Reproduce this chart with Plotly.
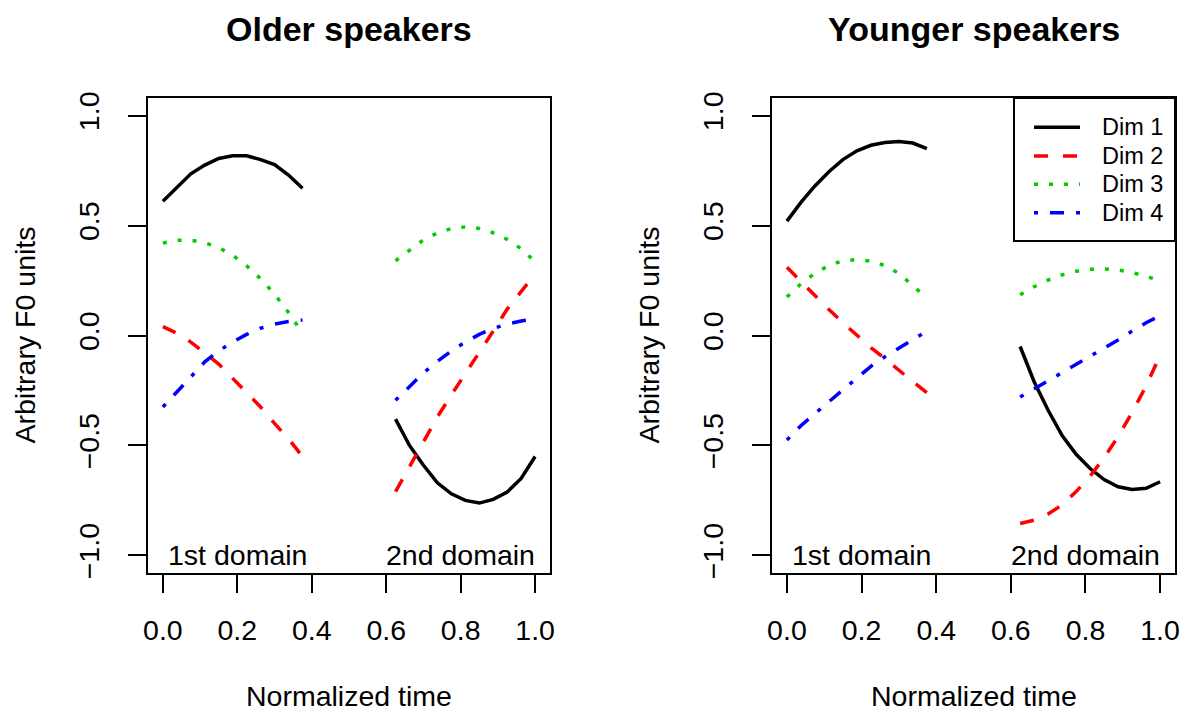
import plotly.graph_objects as go

# ---------------- data ----------------
t_dom1 = [0, 0.0375, 0.075, 0.1125, 0.15, 0.1875, 0.225, 0.2625, 0.3, 0.3375, 0.375]
t_dom2 = [0.625, 0.6625, 0.7, 0.7375, 0.775, 0.8125, 0.85, 0.8875, 0.925, 0.9625, 1.0]

dim_names = ["Dim 1", "Dim 2", "Dim 3", "Dim 4"]
panel_titles = ["Older speakers", "Younger speakers"]
domain_labels = ["1st domain", "2nd domain"]
domain_label_x = [0.2, 0.8]
domain_label_y = -1.0
x_ticks = [0.0, 0.2, 0.4, 0.6, 0.8, 1.0]
y_ticks = [-1.0, -0.5, 0.0, 0.5, 1.0]
x_title = "Normalized time"
y_title = "Arbitrary F0 units"

older_dim1_d1 = [0.61, 0.67, 0.735, 0.775, 0.805, 0.817, 0.817, 0.80, 0.777, 0.73, 0.67]
older_dim1_d2 = [-0.38, -0.50, -0.59, -0.67, -0.72, -0.75, -0.762, -0.745, -0.712, -0.65, -0.55]
older_dim2_d1 = [0.04, 0.01, -0.03, -0.08, -0.13, -0.195, -0.26, -0.325, -0.40, -0.47, -0.55]
older_dim2_d2 = [-0.71, -0.595, -0.48, -0.37, -0.27, -0.175, -0.075, 0.02, 0.12, 0.20, 0.28]
older_dim3_d1 = [0.42, 0.433, 0.433, 0.422, 0.40, 0.365, 0.317, 0.258, 0.188, 0.105, 0.01]
older_dim3_d2 = [0.34, 0.39, 0.435, 0.466, 0.486, 0.494, 0.487, 0.467, 0.437, 0.395, 0.335]
older_dim4_d1 = [-0.325, -0.255, -0.185, -0.12, -0.07, -0.03, 0.005, 0.033, 0.052, 0.064, 0.07]
older_dim4_d2 = [-0.295, -0.23, -0.17, -0.118, -0.07, -0.03, 0.005, 0.032, 0.052, 0.066, 0.075]

younger_dim1_d1 = [0.52, 0.605, 0.68, 0.745, 0.80, 0.84, 0.865, 0.878, 0.882, 0.875, 0.85]
younger_dim1_d2 = [-0.05, -0.21, -0.34, -0.455, -0.54, -0.605, -0.655, -0.688, -0.70, -0.695, -0.665]
younger_dim2_d1 = [0.31, 0.245, 0.18, 0.118, 0.058, 0.0, -0.055, -0.105, -0.16, -0.21, -0.26]
younger_dim2_d2 = [-0.855, -0.84, -0.812, -0.77, -0.71, -0.64, -0.555, -0.46, -0.35, -0.23, -0.09]
younger_dim3_d1 = [0.175, 0.235, 0.283, 0.318, 0.34, 0.345, 0.338, 0.318, 0.283, 0.228, 0.17]
younger_dim3_d2 = [0.185, 0.222, 0.252, 0.276, 0.292, 0.301, 0.303, 0.298, 0.287, 0.27, 0.25]
younger_dim4_d1 = [-0.475, -0.41, -0.355, -0.3, -0.245, -0.19, -0.14, -0.097, -0.058, -0.018, 0.02]
younger_dim4_d2 = [-0.28, -0.243, -0.208, -0.17, -0.13, -0.093, -0.057, -0.02, 0.02, 0.058, 0.09]

older = [(older_dim1_d1, older_dim1_d2), (older_dim2_d1, older_dim2_d2),
         (older_dim3_d1, older_dim3_d2), (older_dim4_d1, older_dim4_d2)]
younger = [(younger_dim1_d1, younger_dim1_d2), (younger_dim2_d1, younger_dim2_d2),
           (younger_dim3_d1, younger_dim3_d2), (younger_dim4_d1, younger_dim4_d2)]

# ---------------- style ----------------
W, H = 1186, 712
FONT = "Liberation Sans, Arial, Helvetica, sans-serif"
FS = 28.5
colors = ["#000000", "#FF0000", "#00CD00", "#0000FF"]
dashes = ["solid", "14px,15px", "4px,11px", "4px,12px,14px,12px"]
LW = 3.5

def pxx(p):
    return p / W

def pxy(p):
    return 1 - p / H

box_left = [(148, 550), (772, 1175)]
box_top, box_bottom = 98, 573

fig = go.Figure()

for pi, panel in enumerate([older, younger]):
    xa = "x" if pi == 0 else "x2"
    ya = "y" if pi == 0 else "y2"
    for di, (d1, d2) in enumerate(panel):
        fig.add_trace(go.Scatter(
            x=t_dom1 + [None] + t_dom2,
            y=d1 + [None] + d2,
            mode="lines", connectgaps=False,
            line=dict(color=colors[di], width=LW, dash=dashes[di]),
            xaxis=xa, yaxis=ya, showlegend=False, hoverinfo="skip"))

axis_common = dict(
    showgrid=False, zeroline=False, showline=True, mirror=True,
    linecolor="black", linewidth=2, ticks="outside", ticklen=18,
    tickwidth=2, tickcolor="black", automargin=False,
    tickfont=dict(family=FONT, size=FS, color="black"),
    tickformat=".1f", fixedrange=True)

layout = dict(
    width=W, height=H, margin=dict(l=0, r=0, t=0, b=0, pad=0), autosize=False,
    paper_bgcolor="white", plot_bgcolor="white",
    font=dict(family=FONT, size=FS, color="black"),
    showlegend=False)

for pi in range(2):
    sx = "" if pi == 0 else "2"
    l, r = box_left[pi]
    layout["xaxis" + sx] = dict(axis_common, domain=[pxx(l), pxx(r)],
                                range=[-0.04, 1.04], tickvals=x_ticks,
                                anchor="y" + sx, ticklabelstandoff=13)
    layout["yaxis" + sx] = dict(axis_common, domain=[pxy(box_bottom), pxy(box_top)],
                                range=[-1.08, 1.08], tickvals=y_ticks,
                                anchor="x" + sx, tickangle=-90, ticklabelstandoff=18)

fig.update_layout(**layout)

ann = []
for pi in range(2):
    sx = "" if pi == 0 else "2"
    l, r = box_left[pi]
    cx = (l + r) / 2
    ann.append(dict(text="<b>" + panel_titles[pi] + "</b>", x=pxx(cx), y=pxy(29),
                    xref="paper", yref="paper", showarrow=False,
                    font=dict(family=FONT, size=34, color="black"),
                    xanchor="center", yanchor="middle"))
    ann.append(dict(text=x_title, x=pxx(cx), y=pxy(696), xref="paper", yref="paper",
                    showarrow=False, font=dict(family=FONT, size=FS, color="black"),
                    xanchor="center", yanchor="middle"))
    ann.append(dict(text=y_title, x=pxx(l - 124), y=pxy((box_top + box_bottom) / 2),
                    xref="paper", yref="paper", showarrow=False, textangle=-90,
                    font=dict(family=FONT, size=FS, color="black"),
                    xanchor="center", yanchor="middle"))
    for k in range(2):
        ann.append(dict(text=domain_labels[k], x=domain_label_x[k], y=domain_label_y,
                        xref="x" + sx, yref="y" + sx, showarrow=False,
                        font=dict(family=FONT, size=FS, color="black"),
                        xanchor="center", yanchor="middle"))

# legend (right panel, top-right corner)
leg_l, leg_r, leg_t, leg_b = 1014, 1175, 98, 241
row_y = [127.3, 156, 184.3, 212.7]
shapes = [dict(type="rect", xref="paper", yref="paper",
               x0=pxx(leg_l), x1=pxx(leg_r), y0=pxy(leg_b), y1=pxy(leg_t),
               line=dict(color="black", width=2), fillcolor="white", layer="above")]
for di, name in enumerate(dim_names):
    shapes.append(dict(type="line", xref="paper", yref="paper",
                       x0=pxx(1034), x1=pxx(1080), y0=pxy(row_y[di]), y1=pxy(row_y[di]),
                       line=dict(color=colors[di], width=LW, dash=dashes[di]), layer="above"))
    ann.append(dict(text=name, x=pxx(1100), y=pxy(row_y[di]), xref="paper", yref="paper",
                    showarrow=False, font=dict(family=FONT, size=23.5, color="black"),
                    xanchor="left", yanchor="middle"))

fig.update_layout(annotations=ann, shapes=shapes)
fig.write_html("out.html", config={"displayModeBar": False},
               post_script="document.body.style.margin='0';document.body.style.overflow='hidden';")
